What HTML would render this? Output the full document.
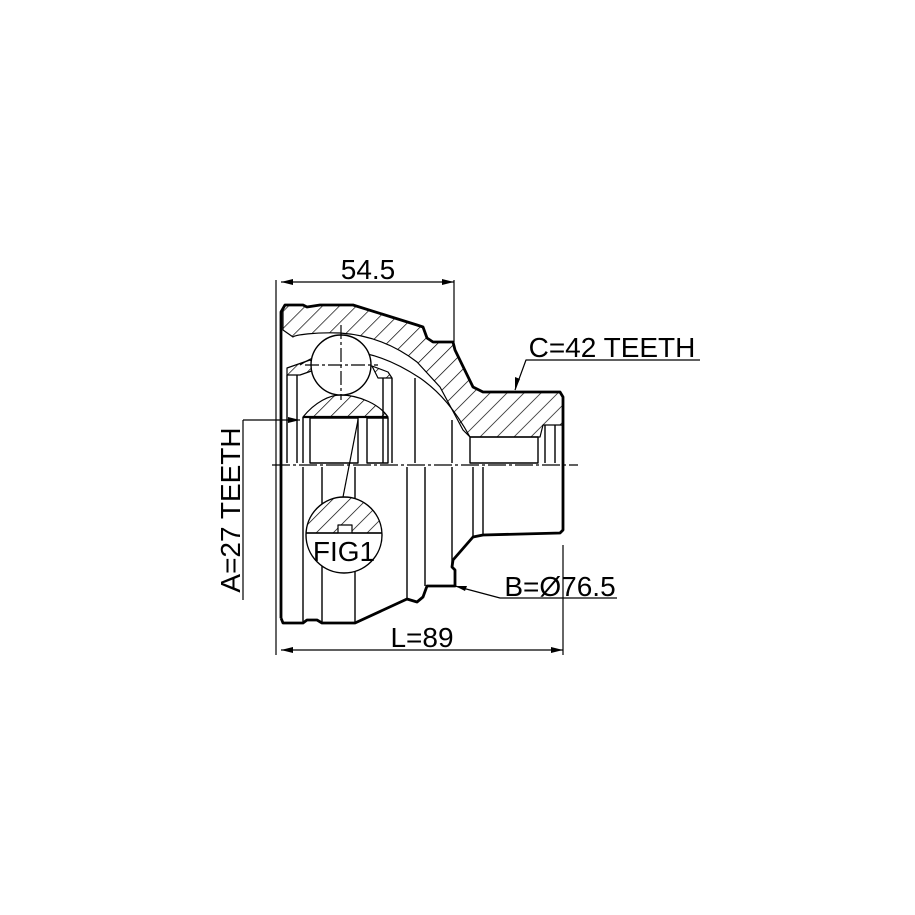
<!DOCTYPE html>
<html><head><style>body{margin:0;background:#fff}svg{display:block}</style></head><body>
<svg width="915" height="915" viewBox="0 0 915 915" xmlns="http://www.w3.org/2000/svg">
<defs>
<pattern id="h" width="12" height="12" patternUnits="userSpaceOnUse" patternTransform="rotate(45)">
<line x1="0" y1="0" x2="0" y2="12" stroke="#000" stroke-width="1.4"/>
</pattern>
<clipPath id="fc"><circle cx="344" cy="535" r="38"/></clipPath>
</defs>
<rect width="915" height="915" fill="#fff"/>
<g fill="none" stroke="#000" stroke-linejoin="round">
<path d="M283,330 L283,310 L285,305 L303,305 L307,307 L320,305 L353,305 L417,325 L423,327 L427,338 L433,342 L453,342 L455,350 L473,387 L483,392 L560,392 L563,397 L563,425 L543,425 L540,437 L470,437 L463,430 L440,387 L417,362 C395,345 370,335 340,333 C315,332 295,335 293,337 Z" fill="url(#h)" stroke-width="1.2"/>
<path d="M303,417 C315,402 330,395 340,395 C360,395 380,405 388,417 Z" fill="url(#h)" stroke-width="1.2"/>
<path d="M287,368 L310,360 L320,368 L300,375 L287,375 Z" fill="url(#h)" stroke-width="1.2"/>
<path d="M372,366 L388,372 L392,378 L378,378 Z" fill="url(#h)" stroke-width="1.2"/>
<path d="M300,365 C330,345 370,345 420,378 C440,392 455,410 470,437" stroke-width="1.2"/>
<circle cx="341" cy="365" r="30" fill="#fff" stroke-width="1.4"/>
<path d="M341,325 V400 M305,365 H378" stroke-width="1.2" stroke-dasharray="14,3,3,3"/>
<path d="M281,618 L281,312 L285,305 L303,305 L307,307 L320,305 L353,305 L417,325 L423,327 L427,338 L433,342 L453,342 L455,350 L473,387 L483,392 L560,392 L563,397 L563,530 L560,533 L483,535 L473,537 L453,560 L452,567 L455,570 L455,586 L427,586 L423,597 L417,602 L407,599 L355,623 L322,623 L317,620 L307,620 L303,623 L283,623 L281,618" stroke-width="2.8"/>
<rect x="310" y="418" width="48" height="45" stroke-width="1.4"/>
<rect x="367" y="418" width="21" height="45" stroke-width="1.4"/>
<rect x="470" y="437" width="68" height="26" stroke-width="1.4"/>
<path d="M303,417 H388" stroke-width="2.2"/>
<path d="M287,375 V463 M297,375 V463 M303,417 V463 M383,378 V463 M392,378 V463 M415,378 V463 M452,420 V463 M545,425 V463 M555,425 V463" stroke-width="1.4"/>
<path d="M303,467 V623 M322,467 V623 M355,467 V623 M407,467 V599 M425,467 V586 M452,467 V567 M473,467 V537 M483,467 V535" stroke-width="1.4"/>
<path d="M272,465 H578" stroke-width="1.2" stroke-dasharray="18,3,3,3"/>
<circle cx="344" cy="535" r="38" fill="#fff" stroke-width="1.4"/>
<path clip-path="url(#fc)" d="M300,497 H390 V533 H352 V525 H338 V533 H300 Z" fill="url(#h)" stroke-width="1.2"/>
<path d="M306,533 H382" stroke-width="1.4"/>
<path d="M343,497 L358,420" stroke-width="1.2"/>
<path d="M276,280 V655 M454,280 V342 M563,545 V655" stroke-width="1.2"/>
<path d="M281,282 H454 M281,650 H563" stroke-width="1.2"/>
<path d="M243,420 V600 M243,420 H300" stroke-width="1.2"/>
<path d="M515,390 L526,360 H700" stroke-width="1.2"/>
<path d="M455,586 L500,598 H617" stroke-width="1.2"/>
</g>
<g fill="#000">
<path d="M281,282 l12,-3 v6z M454,282 l-12,-3 v6z M281,650 l12,-3 v6z M563,650 l-12,-3 v6z M300,420 l-12,-3 v6z M515,390 l0,-13 l5,2z M455,586 l12,0 l-2,5z"/>
</g>
<g font-family="Liberation Sans, sans-serif" font-size="28" fill="#000">
<text x="368" y="279" text-anchor="middle">54.5</text>
<text x="612" y="357" text-anchor="middle">C=42 TEETH</text>
<text x="560" y="596" text-anchor="middle">B=Ø76.5</text>
<text x="422" y="647" text-anchor="middle">L=89</text>
<text x="344" y="561" text-anchor="middle">FIG1</text>
<text transform="translate(240,510) rotate(-90)" text-anchor="middle">A=27 TEETH</text>
</g>
</svg>
</body></html>
